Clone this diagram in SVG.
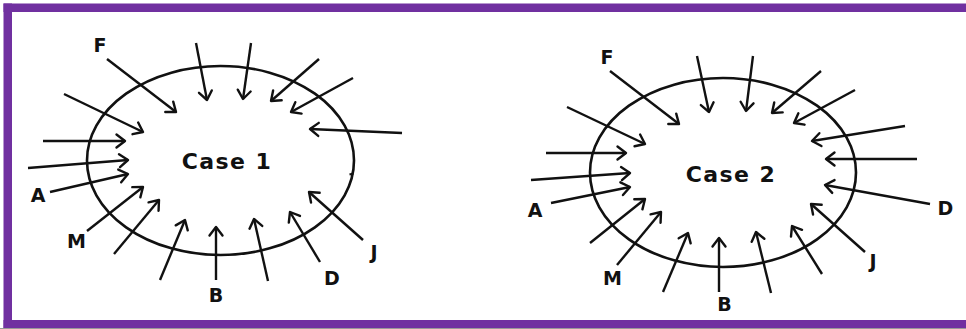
<svg xmlns="http://www.w3.org/2000/svg" width="966" height="329" viewBox="0 0 966 329">
<style>
.frame{fill:#7030A0}
.ring{fill:none;stroke:#111;stroke-width:2.6}
.arr{stroke:#111;stroke-width:2.4;fill:none;marker-end:url(#ah)}
.lbl{font-family:"DejaVu Sans","Verdana",sans-serif;font-weight:bold;font-size:19px;fill:#111}
.title{font-family:"DejaVu Sans","Verdana",sans-serif;font-weight:bold;font-size:22px;letter-spacing:1.4px;fill:#111}
</style>
<defs>
<marker id="ah" markerUnits="userSpaceOnUse" markerWidth="20" markerHeight="20" refX="10" refY="10" orient="auto" overflow="visible">
<path d="M1.5,3.5 L10,10 L1.5,16.5" fill="none" stroke="#111" stroke-width="2.4" stroke-linecap="round" stroke-linejoin="round"/>
</marker>
</defs>
<rect x="0" y="0" width="966" height="329" fill="#fff"/>
<g id="frame">
<rect class="frame" x="3.5" y="3.5" width="962.5" height="8.5"/>
<rect class="frame" x="3.5" y="3.5" width="8.5" height="325"/>
<rect class="frame" x="3.5" y="320" width="962.5" height="8.5"/>
<rect x="0" y="328" width="966" height="1" fill="#999"/>
</g>
<g id="case1">
<ellipse class="ring" cx="220.5" cy="160.5" rx="133.5" ry="94.5"/>
<path d="M349.5,174.5 L353.5,173.5" stroke="#111" stroke-width="2"/>
<text class="title" x="227" y="169" text-anchor="middle">Case 1</text>
</g>
<g id="case2">
<ellipse class="ring" cx="723" cy="172.5" rx="133" ry="94.5"/>
<text class="title" x="731" y="182" text-anchor="middle">Case 2</text>
</g>
<g id="connectors">
<line class="arr" x1="107" y1="59" x2="176" y2="112"/>
<line class="arr" x1="64" y1="94" x2="143" y2="132"/>
<line class="arr" x1="43" y1="141" x2="125" y2="141"/>
<line class="arr" x1="28" y1="168" x2="128" y2="160"/>
<line class="arr" x1="50" y1="192" x2="128" y2="174"/>
<line class="arr" x1="87" y1="231" x2="143" y2="187"/>
<line class="arr" x1="114" y1="254" x2="159" y2="200"/>
<line class="arr" x1="160" y1="280" x2="185" y2="220"/>
<line class="arr" x1="216" y1="280" x2="216" y2="227"/>
<line class="arr" x1="268" y1="281" x2="254" y2="219"/>
<line class="arr" x1="320" y1="262" x2="290" y2="212"/>
<line class="arr" x1="363" y1="240" x2="309" y2="192"/>
<line class="arr" x1="402" y1="133" x2="310" y2="129"/>
<line class="arr" x1="353" y1="78" x2="291" y2="112"/>
<line class="arr" x1="319" y1="59" x2="271" y2="101"/>
<line class="arr" x1="251" y1="43" x2="243" y2="99"/>
<line class="arr" x1="196" y1="43" x2="207" y2="100"/>

<line class="arr" x1="610" y1="71" x2="679" y2="124"/>
<line class="arr" x1="567" y1="107" x2="645" y2="144"/>
<line class="arr" x1="546" y1="153" x2="626" y2="153"/>
<line class="arr" x1="531" y1="180" x2="630" y2="173"/>
<line class="arr" x1="551" y1="203" x2="630" y2="187"/>
<line class="arr" x1="590" y1="243" x2="645" y2="199"/>
<line class="arr" x1="617" y1="265" x2="661" y2="212"/>
<line class="arr" x1="663" y1="292" x2="688" y2="233"/>
<line class="arr" x1="719" y1="292" x2="719" y2="238"/>
<line class="arr" x1="771" y1="293" x2="756" y2="232"/>
<line class="arr" x1="822" y1="274" x2="792" y2="226"/>
<line class="arr" x1="865" y1="252" x2="811" y2="204"/>
<line class="arr" x1="930" y1="204" x2="825" y2="185"/>
<line class="arr" x1="917" y1="159" x2="826" y2="159"/>
<line class="arr" x1="905" y1="126" x2="812" y2="141"/>
<line class="arr" x1="855" y1="90" x2="794" y2="123"/>
<line class="arr" x1="821" y1="71" x2="772" y2="113"/>
<line class="arr" x1="753" y1="56" x2="746" y2="111"/>
<line class="arr" x1="697" y1="56" x2="709" y2="112"/>
</g>
<g id="labels1">
<text class="lbl" x="100" y="52" text-anchor="middle">F</text>
<text class="lbl" x="38" y="202" text-anchor="middle">A</text>
<text class="lbl" x="76.5" y="248" text-anchor="middle">M</text>
<text class="lbl" x="216" y="302" text-anchor="middle">B</text>
<text class="lbl" x="332" y="285" text-anchor="middle">D</text>
<text class="lbl" x="374" y="259" text-anchor="middle">J</text>
</g>
<g id="labels2">
<text class="lbl" x="607" y="64" text-anchor="middle">F</text>
<text class="lbl" x="535" y="217" text-anchor="middle">A</text>
<text class="lbl" x="612.5" y="285" text-anchor="middle">M</text>
<text class="lbl" x="724.5" y="311" text-anchor="middle">B</text>
<text class="lbl" x="945.5" y="215" text-anchor="middle">D</text>
<text class="lbl" x="873" y="268" text-anchor="middle">J</text>
</g>
</svg>
